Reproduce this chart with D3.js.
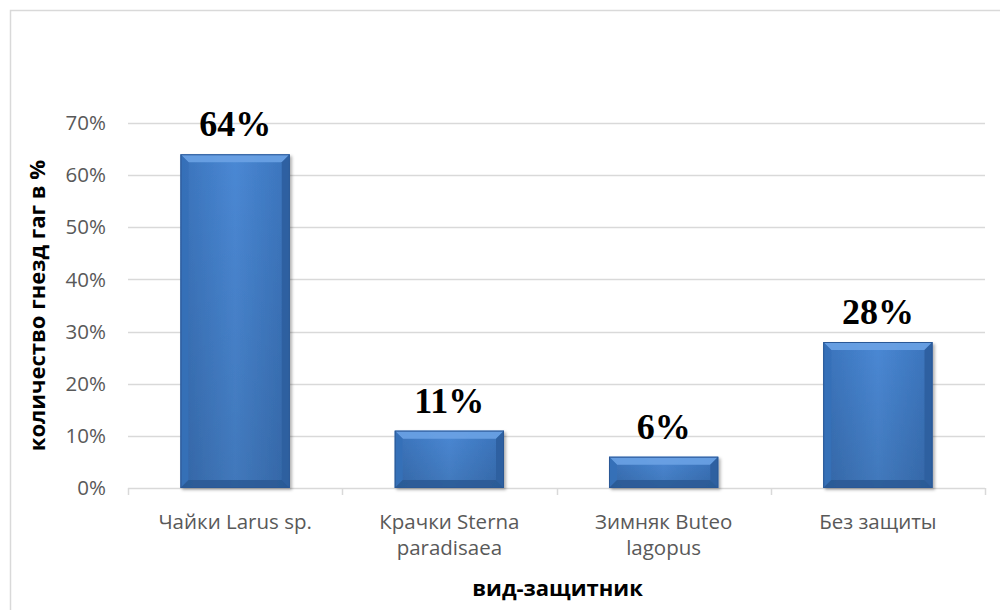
<!DOCTYPE html>
<html>
<head>
<meta charset="utf-8">
<script src="https://cdn.jsdelivr.net/npm/d3@7"></script>
<style>
  html, body { margin: 0; padding: 0; background: #fff; }
  svg { display: block; }
</style>
</head>
<body>
<svg id="chart" width="1000" height="610"></svg>
<script>
// Nest-protector categories (two-line labels) and share of eider nests
const categories = [
  ["Чайки Larus sp."],
  ["Крачки Sterna", "paradisaea"],
  ["Зимняк Buteo", "lagopus"],
  ["Без защиты"]
];
const values = [64, 11, 6, 28];
const yTicks = [0, 10, 20, 30, 40, 50, 60, 70];
const yTitle = "количество гнезд гаг в %";
const xTitle = "вид-защитник";

const svg = d3.select("#chart");
const W = 1000, H = 610;
const margin = { left: 128, right: 15, top: 123, bottom: 122 };
const innerW = W - margin.left - margin.right;
const innerH = H - margin.top - margin.bottom;
const sans = "'Open Sans', 'Liberation Sans', sans-serif";

// Chart frame
svg.append("rect")
  .attr("x", 10.5).attr("y", 10.5)
  .attr("width", W).attr("height", H)
  .attr("fill", "#fff").attr("stroke", "#d9d9d9").attr("stroke-width", 1.5);

const defs = svg.append("defs");
const grad = defs.append("linearGradient").attr("id", "barGrad")
  .attr("x1", "0").attr("y1", "0").attr("x2", "1").attr("y2", "0");
grad.append("stop").attr("offset", "0%").attr("stop-color", "#3a73bb");
grad.append("stop").attr("offset", "50%").attr("stop-color", "#4a88d4");
grad.append("stop").attr("offset", "100%").attr("stop-color", "#3a73bb");

const vgrad = defs.append("linearGradient").attr("id", "barShade")
  .attr("x1", "0").attr("y1", "0").attr("x2", "0").attr("y2", "1");
vgrad.append("stop").attr("offset", "0%").attr("stop-color", "#000").attr("stop-opacity", 0);
vgrad.append("stop").attr("offset", "100%").attr("stop-color", "#000").attr("stop-opacity", 0.12);

const shadow = defs.append("filter").attr("id", "shadow")
  .attr("x", "-10%").attr("y", "-10%").attr("width", "130%").attr("height", "130%");
shadow.append("feDropShadow").attr("dx", 2).attr("dy", 2).attr("stdDeviation", 1.5)
  .attr("flood-color", "#000").attr("flood-opacity", 0.3);

const g = svg.append("g").attr("transform", `translate(${margin.left},${margin.top})`);

const x = d3.scaleBand().domain(d3.range(categories.length)).range([0, innerW]).paddingInner(0.49).paddingOuter(0.245);
const xTickScale = d3.scaleLinear().domain([0, categories.length]).range([0, innerW]);
const y = d3.scaleLinear().domain([0, 70]).range([innerH, 0]);

// Gridlines
g.append("g").selectAll("line").data(yTicks.filter(d => d > 0)).join("line")
  .attr("x1", 0).attr("x2", innerW)
  .attr("y1", d => Math.round(y(d)) + 0.5).attr("y2", d => Math.round(y(d)) + 0.5)
  .attr("stroke", "#d9d9d9").attr("stroke-width", 1.3);

// Y tick labels
g.append("g").selectAll("text").data(yTicks).join("text")
  .attr("x", -22).attr("y", d => y(d)).attr("dy", "0.35em")
  .attr("text-anchor", "end")
  .attr("font-family", sans)
  .attr("font-size", 20.5).attr("fill", "#595959")
  .text(d => d + "%");

// X axis line and tick marks at band boundaries
g.append("line")
  .attr("x1", 0).attr("x2", innerW).attr("y1", innerH + 0.5).attr("y2", innerH + 0.5)
  .attr("stroke", "#d9d9d9").attr("stroke-width", 1.5);
g.append("g").selectAll("line").data(d3.range(categories.length + 1)).join("line")
  .attr("x1", d => Math.round(xTickScale(d)) + 0.5).attr("x2", d => Math.round(xTickScale(d)) + 0.5)
  .attr("y1", innerH).attr("y2", innerH + 7)
  .attr("stroke", "#d9d9d9").attr("stroke-width", 1.5);

// Bars with bevelled edges
const bev = 8;
const bars = g.append("g").selectAll("g").data(values).join("g")
  .attr("filter", "url(#shadow)");
bars.each(function(v, i) {
  const b = d3.select(this);
  const x0 = x(i), x1 = x(i) + x.bandwidth();
  const y0 = y(v), y1 = y(0);
  b.append("rect").attr("x", x0).attr("y", y0).attr("width", x1 - x0).attr("height", y1 - y0)
    .attr("fill", "url(#barGrad)");
  b.append("rect").attr("x", x0).attr("y", y0).attr("width", x1 - x0).attr("height", y1 - y0)
    .attr("fill", "url(#barShade)");
  const pts = (arr) => arr.map(p => p.join(",")).join(" ");
  // top bevel (light)
  b.append("polygon").attr("points", pts([[x0, y0], [x1, y0], [x1 - bev, y0 + bev], [x0 + bev, y0 + bev]]))
    .attr("fill", "#6aa2e4").attr("opacity", 0.9);
  // left bevel
  b.append("polygon").attr("points", pts([[x0, y0], [x0 + bev, y0 + bev], [x0 + bev, y1 - bev], [x0, y1]]))
    .attr("fill", "#3670b8").attr("opacity", 0.9);
  // right bevel
  b.append("polygon").attr("points", pts([[x1, y0], [x1, y1], [x1 - bev, y1 - bev], [x1 - bev, y0 + bev]]))
    .attr("fill", "#2d5f9f").attr("opacity", 0.9);
  // bottom bevel
  b.append("polygon").attr("points", pts([[x0, y1], [x0 + bev, y1 - bev], [x1 - bev, y1 - bev], [x1, y1]]))
    .attr("fill", "#2a5792").attr("opacity", 0.8);
  b.append("rect").attr("x", x0 + 0.5).attr("y", y0 + 0.5).attr("width", x1 - x0 - 1).attr("height", y1 - y0 - 1)
    .attr("fill", "none").attr("stroke", "#2b5896").attr("stroke-width", 1);
});

// Value labels
g.append("g").selectAll("text").data(values).join("text")
  .attr("x", (d, i) => x(i) + x.bandwidth() / 2)
  .attr("y", d => y(d) - 18)
  .attr("text-anchor", "middle")
  .attr("font-family", "'Liberation Serif', 'Times New Roman', serif")
  .attr("font-weight", "bold").attr("font-size", 36).attr("fill", "#000")
  .text(d => d + "%");

// Category labels
const catG = g.append("g").selectAll("text").data(categories).join("text")
  .attr("x", (d, i) => x(i) + x.bandwidth() / 2)
  .attr("y", innerH + 41)
  .attr("text-anchor", "middle")
  .attr("font-family", sans)
  .attr("font-size", 20.5).attr("fill", "#595959");
catG.each(function(lines) {
  d3.select(this).selectAll("tspan").data(lines).join("tspan")
    .attr("x", d3.select(this).attr("x"))
    .attr("dy", (d, j) => j === 0 ? 0 : 26)
    .text(d => d);
});

// Axis titles
svg.append("text")
  .attr("x", margin.left + innerW / 2 + 1).attr("y", 596)
  .attr("text-anchor", "middle")
  .attr("font-family", sans)
  .attr("font-weight", "bold").attr("font-size", 22).attr("fill", "#000")
  .text(xTitle);

svg.append("text")
  .attr("transform", `translate(45, ${margin.top + innerH / 2}) rotate(-90)`)
  .attr("text-anchor", "middle")
  .attr("font-family", sans)
  .attr("font-weight", "bold").attr("font-size", 22).attr("fill", "#000")
  .text(yTitle);
</script>
</body>
</html>
